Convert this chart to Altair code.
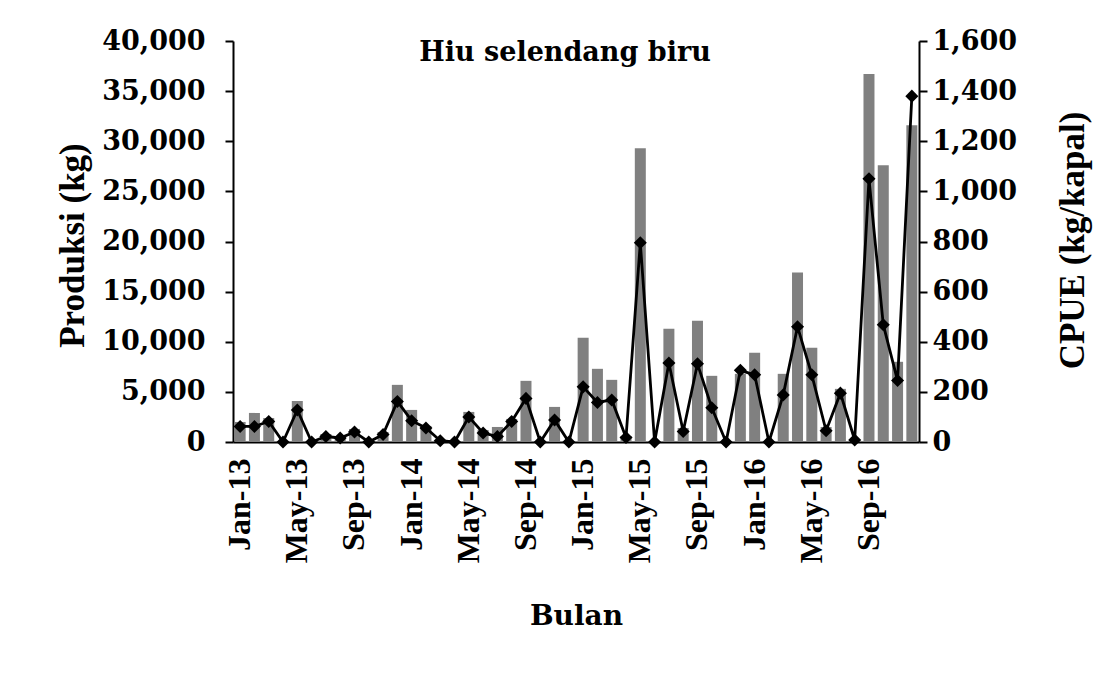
import altair as alt
import pandas as pd

# ---- data ----
month_names = ["Jan", "Feb", "Mar", "Apr", "May", "Jun", "Jul", "Aug", "Sep", "Oct", "Nov", "Dec"]
years = ["13", "14", "15", "16"]
bulan = [f"{m}-{y}" for y in years for m in month_names]
shown_labels = ["Jan-13", "May-13", "Sep-13", "Jan-14", "May-14", "Sep-14",
                "Jan-15", "May-15", "Sep-15", "Jan-16", "May-16", "Sep-16"]

produksi = [2000, 2900, 2400, 0, 4100, 0, 800, 500, 1300, 0, 1000, 5700,
            3200, 1600, 0, 0, 3000, 1200, 1500, 2300, 6100, 0, 3500, 0,
            10400, 7300, 6200, 600, 29300, 0, 11300, 1400, 12100, 6600, 0, 6800,
            8900, 0, 6800, 16900, 9400, 1500, 5300, 300, 36700, 27600, 8000, 31600]

cpue = [62, 62, 82, 0, 128, 0, 22, 16, 40, 0, 30, 162,
        85, 56, 5, 0, 100, 36, 22, 82, 174, 0, 88, 0,
        220, 158, 168, 18, 795, 0, 315, 42, 312, 137, 0, 286,
        268, 0, 188, 460, 268, 45, 195, 8, 1050, 468, 245, 1380]

left_ticks = [0, 5000, 10000, 15000, 20000, 25000, 30000, 35000, 40000]
right_ticks = [0, 200, 400, 600, 800, 1000, 1200, 1400, 1600]
title_text = "Hiu selendang biru"

df = pd.DataFrame({"bulan": bulan, "produksi": produksi, "cpue": cpue})

HFONT = "DejaVu Serif"
VFONT = "Liberation Serif"

x_enc = alt.X(
    "bulan:N", sort=bulan,
    scale=alt.Scale(paddingInner=0.23, paddingOuter=0.115),
    axis=alt.Axis(values=shown_labels, labelAngle=-90, ticks=False, labelPadding=16,
                  labelFont=VFONT, labelFontSize=32, labelFontWeight="bold", labelColor="black",
                  domainColor="black", domainWidth=2,
                  title="Bulan", titleFont=HFONT, titleFontSize=28, titleFontWeight="bold",
                  titleColor="black", titlePadding=40),
)

bars = alt.Chart(df).mark_bar(color="#808080").encode(
    x=x_enc,
    y=alt.Y("produksi:Q", scale=alt.Scale(domain=[0, 40000], nice=False),
            axis=alt.Axis(orient="left", values=left_ticks, format=",d", grid=False,
                          tickSize=8, tickWidth=2, tickColor="black",
                          domainColor="black", domainWidth=2, labelPadding=20,
                          labelFont=HFONT, labelFontSize=27, labelFontWeight="bold", labelColor="black",
                          title="Produksi (kg)", titleFont=VFONT, titleFontSize=35,
                          titleFontWeight="bold", titleColor="black",
                          titleAngle=-90, titleX=-161, titleY=204,
                          titleAlign="center", titleBaseline="middle")),
)

line = alt.Chart(df).mark_line(
    color="black", strokeWidth=2.8,
    point=alt.OverlayMarkDef(shape="diamond", size=170, filled=True, color="black"),
).encode(
    x=alt.X("bulan:N", sort=bulan),
    y=alt.Y("cpue:Q", scale=alt.Scale(domain=[0, 1600], nice=False),
            axis=alt.Axis(orient="right", values=right_ticks, format=",d", grid=False,
                          tickSize=8, tickWidth=2, tickColor="black",
                          domainColor="black", domainWidth=2, labelPadding=5,
                          labelFont=HFONT, labelFontSize=27, labelFontWeight="bold", labelColor="black",
                          title="CPUE (kg/kapal)", titleFont=VFONT, titleFontSize=35,
                          titleFontWeight="bold", titleColor="black",
                          titleAngle=-90, titleX=153, titleY=199,
                          titleAlign="center", titleBaseline="middle")),
)

title = alt.Chart(pd.DataFrame({"t": [title_text]})).mark_text(
    font=HFONT, fontSize=27, fontWeight="bold", color="black", align="center", baseline="middle"
).encode(text="t:N", x=alt.value(332), y=alt.value(12))

chart = alt.layer(bars, line, title).resolve_scale(y="independent").properties(
    width=686, height=401,
    background="white",
    autosize=alt.AutoSizeParams(type="none"),
    padding={"left": 225, "top": 33, "right": 180, "bottom": 215},
).configure_view(strokeWidth=0)

chart.save("out.html", embed_options={"renderer": "svg", "actions": False})
